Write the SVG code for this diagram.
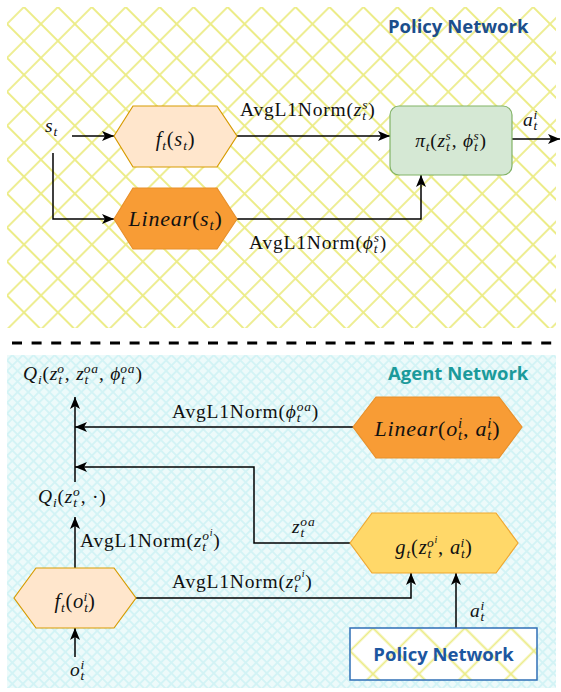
<svg xmlns="http://www.w3.org/2000/svg" width="561" height="692" viewBox="0 0 561 692">
<defs>
<style>
.m{font-family:"Liberation Serif","DejaVu Serif",serif;font-size:19.5px;fill:#111;letter-spacing:0.8px}
.n{font-size:20.5px}
.nb{font-size:22px}
.i{font-style:italic}
.s{font-size:13.5px}
.s2{font-size:15px}
.ss{font-size:10px}
.title{font-family:"Open Sans","DejaVu Sans",sans-serif;font-weight:bold;font-size:18.5px}
.edge{fill:none;stroke:#000;stroke-width:1.5;marker-end:url(#arr)}
.hexL{fill:#ffe6cc;stroke:#d79b00;stroke-width:1.2}
.hexO{fill:#f89c35;stroke:#e8902a;stroke-width:1.2}
.hexY{fill:#ffd869;stroke:#f0a830;stroke-width:1.2}
</style>
<pattern id="hy" patternUnits="userSpaceOnUse" width="24" height="24" patternTransform="translate(7,7) rotate(45)">
<path d="M0,12H24M12,0V24" stroke="#ecec88" stroke-width="1.8" fill="none"/>
</pattern>
<pattern id="hy2" patternUnits="userSpaceOnUse" width="32.5" height="32.5" patternTransform="translate(350,628) rotate(45)">
<path d="M0,16.25H32.5M16.25,0V32.5" stroke="#ecec88" stroke-width="1.8" fill="none"/>
</pattern>
<pattern id="hc" patternUnits="userSpaceOnUse" width="7.5" height="7.5" patternTransform="translate(7,355) rotate(45)">
<path d="M0,3.75H7.5M3.75,0V7.5" stroke="#d3f3f5" stroke-width="2" fill="none"/>
</pattern>
<marker id="arr" markerUnits="userSpaceOnUse" viewBox="0 0 12 10" refX="12" refY="5" markerWidth="12" markerHeight="10" orient="auto">
<path d="M0,0L12,5L0,10L3,5Z" fill="#000"/>
</marker>
</defs>

<g id="background">
<rect x="0" y="0" width="561" height="692" fill="#fff"/>
<rect x="7" y="7" width="549" height="321" fill="url(#hy)"/>
<line x1="12" y1="343" x2="556" y2="343" stroke="#000" stroke-width="3" stroke-dasharray="10 9.6"/>
<rect x="7" y="355" width="549" height="333" fill="#edfafa"/>
<rect x="7" y="355" width="549" height="333" fill="url(#hc)"/>
</g>

<g id="titles">
<text class="title" x="388" y="33" fill="#1b4e8c">Policy Network</text>
<text class="title" x="388" y="380" fill="#1b9a9b">Agent Network</text>
</g>

<g id="connectors">
<path class="edge" d="M72,136H114"/>
<path class="edge" d="M53,153V219H114"/>
<path class="edge" d="M237,136H390"/>
<path class="edge" d="M237,219H421V175"/>
<path class="edge" d="M512,139H560"/>
<path class="edge" d="M353,427H75"/>
<path class="edge" d="M350,543H254V467H75"/>
<path class="edge" d="M75,482V397"/>
<path class="edge" d="M75,568V517"/>
<path class="edge" d="M136,598H411V573"/>
<path class="edge" d="M456,628V573"/>
<path class="edge" d="M75,657V628"/>
</g>

<g id="edge-labels">
<text class="m" x="45" y="132"><tspan class="i">s</tspan><tspan class="i s" dy="4">t</tspan></text>
<text class="m" x="240" y="116">AvgL1Norm(<tspan class="i">z</tspan><tspan class="i s" dy="4">t</tspan><tspan class="i s" dx="-4.6" dy="-11">s</tspan><tspan dy="7">)</tspan></text>
<text class="m" x="523" y="126"><tspan class="i">a</tspan><tspan class="i s" dy="4">t</tspan><tspan class="i s" dx="-4.6" dy="-11">i</tspan></text>
<text class="m" x="249" y="249">AvgL1Norm(<tspan class="i">ϕ</tspan><tspan class="i s" dy="4">t</tspan><tspan class="i s" dx="-4.6" dy="-11">s</tspan><tspan dy="7">)</tspan></text>
<text class="m" x="23" y="380" letter-spacing="1.6"><tspan class="i">Q</tspan><tspan class="i s" dy="4">i</tspan><tspan dy="-4">(</tspan><tspan class="i">z</tspan><tspan class="i s" dy="4">t</tspan><tspan class="i s" dx="-5.4" dy="-11">o</tspan><tspan dy="7">, </tspan><tspan class="i">z</tspan><tspan class="i s" dy="4">t</tspan><tspan class="i s" dx="-5.4" dy="-11">oa</tspan><tspan dy="7">, </tspan><tspan class="i">ϕ</tspan><tspan class="i s" dy="4">t</tspan><tspan class="i s" dx="-5.4" dy="-11">oa</tspan><tspan dy="7">)</tspan></text>
<text class="m" x="172" y="418">AvgL1Norm(<tspan class="i">ϕ</tspan><tspan class="i s" dy="4">t</tspan><tspan class="i s" dx="-4.6" dy="-11">oa</tspan><tspan dy="7">)</tspan></text>
<text class="m" x="38" y="503"><tspan class="i">Q</tspan><tspan class="i s" dy="4">i</tspan><tspan dy="-4">(</tspan><tspan class="i">z</tspan><tspan class="i s" dy="4">t</tspan><tspan class="i s" dx="-4.6" dy="-11">o</tspan><tspan dy="7">, ·)</tspan></text>
<text class="m" x="292" y="533"><tspan class="i">z</tspan><tspan class="i s" dy="4">t</tspan><tspan class="i s" dx="-4.6" dy="-11">oa</tspan></text>
<text class="m" x="80" y="547">AvgL1Norm(<tspan class="i">z</tspan><tspan class="i s" dy="4">t</tspan><tspan class="i s" dx="-4.6" dy="-11">o</tspan><tspan class="i ss" dy="-4">i</tspan><tspan dy="11">)</tspan></text>
<text class="m" x="172" y="588">AvgL1Norm(<tspan class="i">z</tspan><tspan class="i s" dy="4">t</tspan><tspan class="i s" dx="-4.6" dy="-11">o</tspan><tspan class="i ss" dy="-4">i</tspan><tspan dy="11">)</tspan></text>
<text class="m" x="470" y="617"><tspan class="i">a</tspan><tspan class="i s" dy="4">t</tspan><tspan class="i s" dx="-4.6" dy="-11">i</tspan></text>
<text class="m" x="70" y="676"><tspan class="i">o</tspan><tspan class="i s" dy="4">t</tspan><tspan class="i s" dx="-4.6" dy="-11">i</tspan></text>
</g>

<g id="node-f-s">
<polygon class="hexL" points="114,136 133,106 217,106 237,136 217,167 133,167"/>
<text class="m n" x="175.5" y="146" text-anchor="middle" letter-spacing="1.5"><tspan class="i">f</tspan><tspan class="i s" dy="4">t</tspan><tspan dy="-4">(</tspan><tspan class="i">s</tspan><tspan class="i s" dy="4">t</tspan><tspan dy="-4">)</tspan></text>
</g>

<g id="node-linear-s">
<polygon class="hexO" points="114,219 133,188 217,188 237,219 217,249 133,249"/>
<text class="m nb" x="175.5" y="226" text-anchor="middle"><tspan class="i">Linear</tspan>(<tspan class="i">s</tspan><tspan class="i s2" dy="4">t</tspan><tspan dy="-4">)</tspan></text>
</g>

<g id="node-pi">
<rect x="390" y="106" width="122" height="69" rx="9" fill="#d5e8d4" stroke="#82b366" stroke-width="1.2"/>
<text class="m" x="451" y="147" text-anchor="middle" letter-spacing="1.2"><tspan class="i">π</tspan><tspan class="i s" dy="4">t</tspan><tspan dy="-4">(</tspan><tspan class="i">z</tspan><tspan class="i s" dy="4">t</tspan><tspan class="i s" dx="-5" dy="-11">s</tspan><tspan dy="7">, </tspan><tspan class="i">ϕ</tspan><tspan class="i s" dy="4">t</tspan><tspan class="i s" dx="-5" dy="-11">s</tspan><tspan dy="7">)</tspan></text>
</g>

<g id="node-linear-oa">
<polygon class="hexO" points="353,427 376,397 499,397 522,427 499,458 376,458"/>
<text class="m nb" x="437.5" y="436" text-anchor="middle"><tspan class="i">Linear</tspan>(<tspan class="i">o</tspan><tspan class="i s2" dy="4">t</tspan><tspan class="i s2" dx="-5" dy="-12">i</tspan><tspan dy="8">, </tspan><tspan class="i">a</tspan><tspan class="i s2" dy="4">t</tspan><tspan class="i s2" dx="-5" dy="-12">i</tspan><tspan dy="8">)</tspan></text>
</g>

<g id="node-g">
<polygon class="hexY" points="350,543 372,513 496,513 518,543 496,573 372,573"/>
<text class="m n" x="434" y="554" text-anchor="middle" letter-spacing="1.3"><tspan class="i">g</tspan><tspan class="i s" dy="4">t</tspan><tspan dy="-4">(</tspan><tspan class="i">z</tspan><tspan class="i s" dy="4">t</tspan><tspan class="i s" dx="-5.1" dy="-11">o</tspan><tspan class="i ss" dy="-4">i</tspan><tspan dy="11">, </tspan><tspan class="i">a</tspan><tspan class="i s" dy="4">t</tspan><tspan class="i s" dx="-5.1" dy="-11">i</tspan><tspan dy="7">)</tspan></text>
</g>

<g id="node-f-o">
<polygon class="hexL" points="14,598 36,568 114,568 136,598 114,628 36,628"/>
<text class="m n" x="75" y="608" text-anchor="middle" letter-spacing="1.5"><tspan class="i">f</tspan><tspan class="i s" dy="4">t</tspan><tspan dy="-4">(</tspan><tspan class="i">o</tspan><tspan class="i s" dy="4">t</tspan><tspan class="i s" dx="-5.3" dy="-11">i</tspan><tspan dy="7">)</tspan></text>
</g>

<g id="node-policy">
<rect x="350" y="628" width="187" height="52" fill="#fff"/>
<rect x="350" y="628" width="187" height="52" fill="url(#hy2)" stroke="#2f6fb6" stroke-width="1.5"/>
<text class="title" x="443.5" y="661" text-anchor="middle" fill="#1c56a0">Policy Network</text>
</g>
</svg>
